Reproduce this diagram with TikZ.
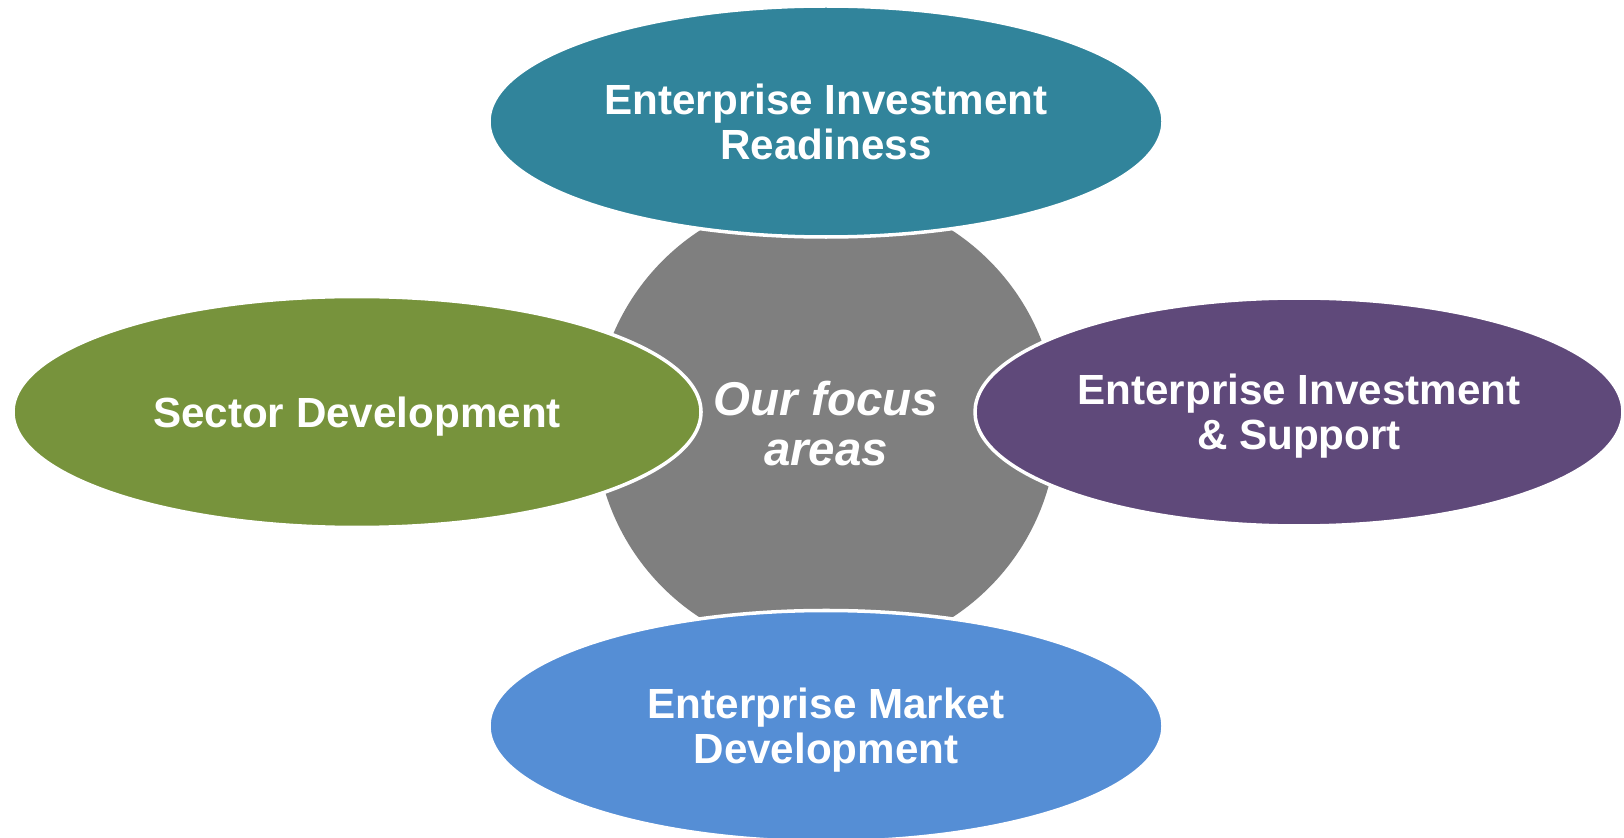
\documentclass[tikz,border=0pt]{standalone}
\usepackage{fontspec}
\setmainfont{Liberation Sans}
\usepackage{tikz}
\usetikzlibrary{shapes.geometric}

\definecolor{tealarea}{HTML}{31849B}
\definecolor{greenarea}{HTML}{77933C}
\definecolor{purplearea}{HTML}{5F497A}
\definecolor{bluearea}{HTML}{558ED5}
\definecolor{hubgray}{HTML}{7F7F7F}

\begin{document}
\begin{tikzpicture}[
    area/.style={ellipse, draw=white, line width=2pt, inner sep=0pt,
        text=white, align=center, text depth=0pt,
        font=\fontsize{24}{25.5}\selectfont\bfseries},
    hub/.style={circle, fill=hubgray, inner sep=0pt, minimum size=9.24cm,
        text=white, align=center,
        font=\fontsize{27}{28.5}\selectfont\bfseries\itshape}
  ]
            % Canvas
            \useasboundingbox (0,0) rectangle (32.48,16.74);

            % Centre circle
            \node[hub] (focus) at (16.52,8.26) {Our focus\\areas};

            % Focus areas round it
            \node[area, fill=tealarea, minimum width=13.48cm, minimum height=4.62cm]
                (readiness) at (16.52,14.31) {Enterprise Investment\\Readiness};
            \node[area, fill=greenarea, minimum width=13.76cm, minimum height=4.62cm]
                (sector) at (7.14,8.50) {Sector Development};
            \node[area, fill=purplearea, minimum width=12.96cm, minimum height=4.56cm]
                (support) at (25.98,8.50) {Enterprise Investment\\\& Support};
            \node[area, fill=bluearea, minimum width=13.48cm, minimum height=4.62cm]
                (market) at (16.52,2.22) {Enterprise Market\\Development};
        \end{tikzpicture}
\end{document}
